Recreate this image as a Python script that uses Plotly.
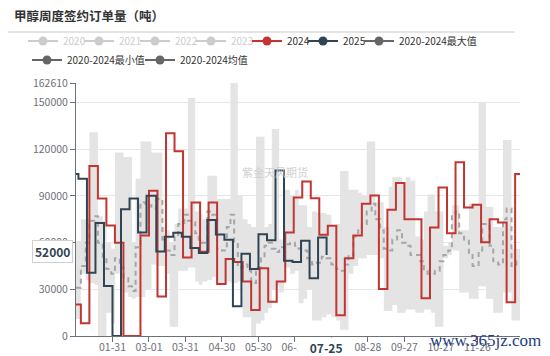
import pandas as pd
import plotly.graph_objects as go

# ---------------- data ----------------
categories = [d.strftime('%m-%d') for d in pd.date_range('2024-01-01', '2024-12-31')]
tick_labels = ['01-31', '03-01', '03-31', '04-30', '05-30', '06-29', '07-29',
               '08-28', '09-27', '10-27', '11-26']

dates_2024 = ['01-01'] + [d.strftime('%m-%d') for d in pd.date_range('2024-01-05', '2024-12-27', freq='7D')] + ['12-31']
values_2024 = [20200, 8200, 109300, 88400, 71000, 59900, 0, 0, 64600, 93400, 25400, 130300, 118700, 50500,
               85800, 54100, 85800, 33500, 49500, 47500, 35000, 16700, 43500, 22000, 35000, 66500, 89000,
               99300, 88600, 65000, 70800, 13300, 50000, 64600, 85000, 90300, 30200, 81100, 98300, 75100,
               75100, 24200, 69700, 95500, 66100, 111600, 82600, 84300, 60300, 75100, 73000, 21700, 104100, 104100]

dates_2025 = ['01-01'] + [d.strftime('%m-%d') for d in pd.date_range('2025-01-03', '2025-07-25', freq='7D')]
values_2025 = [104100, 101100, 40600, 72700, 32200, 0, 81400, 88400, 66600, 90100,
               54300, 63800, 66300, 63800, 56500, 53300, 74600, 65200, 61900, 19200,
               52800, 43000, 65400, 61500, 106300, 48300, 47500, 61200, 37100, 63300, 52000]

band_dates = ['01-01', '01-05', '01-09', '01-12', '01-16', '01-19', '01-23', '01-26', '01-30', '02-02',
              '02-06', '02-09', '02-13', '02-16', '02-19', '02-23', '02-27', '03-03', '03-07', '03-12',
              '03-15', '03-18', '03-22', '03-25', '03-30', '04-02', '04-08', '04-11', '04-14', '04-18',
              '04-22', '04-26', '04-30', '05-04', '05-07', '05-10', '05-13', '05-17', '05-21', '05-24',
              '05-28', '06-01', '06-04', '06-07', '06-10', '06-13', '06-16', '06-20', '06-25', '06-29',
              '07-02', '07-06', '07-09', '07-13', '07-17', '07-21', '07-25', '07-29', '08-02', '08-05',
              '08-09', '08-12', '08-16', '08-20', '08-23', '08-27', '08-31', '09-03', '09-07', '09-10',
              '09-14', '09-17', '09-21', '09-25', '09-28', '10-02', '10-06', '10-10', '10-13', '10-16',
              '10-19', '10-22', '10-26', '10-29', '11-02', '11-05', '11-08', '11-11', '11-15', '11-19',
              '11-22', '11-27', '11-30', '12-03', '12-06', '12-09', '12-13', '12-17', '12-20', '12-24',
              '12-28', '12-31']
max_2020_2024 = [61000, 75000, 76000, 131000, 131000, 77000, 74000, 60000, 56000, 118000,
                 118000, 115000, 115000, 60000, 101000, 125000, 125000, 118000, 118000, 70000,
                 68000, 60000, 72000, 82000, 82000, 153000, 80000, 78000, 75000, 103000,
                 103000, 88000, 88000, 88000, 162610, 162610, 90000, 75000, 72000, 70000,
                 128000, 128000, 70000, 72000, 133000, 133000, 62000, 94000, 90000, 94000,
                 84000, 84000, 70000, 80000, 79000, 79000, 78000, 70000, 72000, 106000,
                 106000, 94000, 94000, 92000, 90000, 125000, 125000, 86000, 86000, 70000,
                 96000, 102000, 102000, 98000, 102000, 100000, 64000, 62000, 80000, 91000,
                 91000, 80000, 80000, 58000, 60000, 84000, 84000, 68000, 68000, 85000,
                 85000, 150000, 150000, 83000, 83000, 70000, 70000, 126000, 126000, 56000,
                 56000, 56000]
min_2020_2024 = [11000, 40000, 36000, 34000, 33000, 0, 0, 15000, 8000, 40000,
                 42000, 28000, 25000, 24000, 25000, 25000, 30000, 46000, 45000, 45000,
                 40000, 6000, 6000, 42000, 42000, 44000, 35000, 33000, 35000, 36000,
                 38000, 34000, 34000, 35000, 34000, 34000, 35000, 12000, 12000, 0,
                 8000, 10000, 15000, 18000, 30000, 32000, 28000, 44000, 40000, 42000,
                 21000, 24000, 30000, 10000, 10000, 12000, 14000, 12000, 10000, 4000,
                 4000, 40000, 45000, 50000, 50000, 52000, 52000, 52000, 50000, 16000,
                 16000, 20000, 15000, 15000, 17000, 17000, 15000, 15000, 17000, 17000,
                 15000, 6000, 6000, 50000, 52000, 55000, 55000, 28000, 28000, 24000,
                 24000, 32000, 32000, 24000, 24000, 15000, 15000, 28000, 28000, 10000,
                 10000, 10000]
avg_2020_2024 = [31000, 45000, 60000, 74000, 77000, 60000, 50000, 43000, 40000, 50000,
                 44000, 38000, 32000, 29000, 57000, 86000, 84000, 82000, 88000, 62000,
                 55000, 52000, 64000, 72000, 78000, 74000, 66000, 60000, 60000, 80000,
                 78000, 56000, 55000, 70000, 78000, 60000, 44000, 46000, 42000, 34000,
                 44000, 50000, 58000, 60000, 56000, 54000, 57000, 59000, 60000, 58000,
                 56000, 55000, 50000, 46000, 47000, 51000, 50000, 46000, 43000, 42000,
                 46000, 52000, 64000, 68000, 72000, 80000, 85000, 75000, 68000, 56000,
                 55000, 62000, 68000, 60000, 58000, 52000, 52000, 48000, 42000, 40000,
                 40000, 42000, 48000, 52000, 55000, 78000, 80000, 66000, 62000, 52000,
                 45000, 55000, 72000, 72000, 58000, 48000, 46000, 75000, 82000, 45000,
                 48000, 48000]

y_ticks = [0, 30000, 60000, 90000, 120000, 150000, 162610]
pointer_date = '07-25'
pointer_value = 52000

# ---------------- styling ----------------
FONT = 'Noto Sans CJK SC'
RED = '#c23531'
NAVY = '#2f4554'
GREY_ICON = '#666666'
OFF = '#cccccc'

fig = go.Figure()

fig.add_trace(go.Scatter(x=band_dates, y=min_2020_2024, mode='lines', line=dict(width=0, shape='hv'),
                         showlegend=False, hoverinfo='skip'))
fig.add_trace(go.Scatter(x=band_dates, y=max_2020_2024, mode='lines', line=dict(width=0, shape='hv'),
                         fill='tonexty', fillcolor='#e4e4e4', showlegend=False, hoverinfo='skip'))
fig.add_trace(go.Scatter(x=band_dates, y=avg_2020_2024, mode='lines',
                         line=dict(width=2, shape='hv', color='#a6a6a6', dash='5px,4px'),
                         showlegend=False, hoverinfo='skip'))
fig.add_trace(go.Scatter(x=dates_2024, y=values_2024, mode='lines',
                         line=dict(width=2, shape='hv', color=RED), showlegend=False))
fig.add_trace(go.Scatter(x=dates_2025, y=values_2025, mode='lines',
                         line=dict(width=2, shape='hv', color=NAVY), showlegend=False))

# legend entries
row1 = [('2020', OFF, True), ('2021', OFF, True), ('2022', OFF, True), ('2023', OFF, True),
        ('2024', RED, False), ('2025', NAVY, False), ('2020-2024最大值', GREY_ICON, False)]
for i, (name, col, off) in enumerate(row1):
    label = f'<span style="color:{OFF}">{name}</span>' if off else name
    fig.add_trace(go.Scatter(x=[None], y=[None], mode='lines+markers', name=label,
                             line=dict(color=col, width=2), marker=dict(color=col, size=9),
                             legend='legend', legendwidth=(11 if i < 6 else 80)))
row2 = [('2020-2024最小值', 68), ('2020-2024均值', 70)]
for name, lw in row2:
    fig.add_trace(go.Scatter(x=[None], y=[None], mode='lines+markers', name=name,
                             line=dict(color=GREY_ICON, width=2), marker=dict(color=GREY_ICON, size=9),
                             legend='legend2', legendwidth=lw))

L, R, T, B = 76, 30, 83, 20
W, H = 550, 356
pw, ph = W - L - R, H - T - B


def px(x):
    return (x - L) / pw


def py(y):
    return (H - B - y) / ph


legend_common = dict(orientation='h', xanchor='left', yanchor='top', itemwidth=30,
                     traceorder='normal',
                     bgcolor='rgba(0,0,0,0)', font=dict(family=FONT, size=10, color='#333'),
                     itemclick=False, itemdoubleclick=False)

NB = '\u00a0' * 3

fig.update_layout(
    width=W, height=H, margin=dict(l=L, r=R, t=T, b=B, autoexpand=False),
    paper_bgcolor='white', plot_bgcolor='white',
    font=dict(family=FONT, size=10, color='#6e7079'),
    title=dict(text='<b>甲醇周度签约订单量（吨）</b>', x=14 / W, xanchor='left',
               y=1 - 17 / H, yanchor='middle', font=dict(family=FONT, size=12.5, color='#333')),
    legend=dict(x=px(23), y=py(26.5), **legend_common),
    legend2=dict(x=px(27), y=py(45.5), **legend_common),
    hovermode=False,
    xaxis=dict(type='category', categoryorder='array', categoryarray=categories,
               range=[0, len(categories) - 1], tickmode='array', tickvals=tick_labels,
               ticktext=tick_labels, ticks='outside', ticklen=5, tickcolor='#6e7079',
               ticklabelstandoff=-4,
               showline=True, linecolor='#6e7079', linewidth=1, showgrid=False,
               tickfont=dict(family=FONT, size=10.5, color='#6e7079'), zeroline=False),
    yaxis=dict(range=[0, y_ticks[-1]], tickmode='array', tickvals=y_ticks,
               ticktext=[str(v) for v in y_ticks], ticks='outside', ticklen=5, tickcolor='#6e7079',
               showline=True, linecolor='#6e7079', linewidth=1, showgrid=True,
               gridcolor='#e6e6e6', gridwidth=1, zeroline=False,
               tickfont=dict(family=FONT, size=10.5, color='#6e7079')),
    shapes=[dict(type='line', xref='paper', yref='paper', x0=px(8), x1=px(515), y0=py(32), y1=py(32),
                 line=dict(color='#c8c8c8', width=1))],
    annotations=[
        dict(text='紫金天风期货', xref='paper', yref='paper', x=px(275), y=py(172),
             xanchor='center', yanchor='middle',
             showarrow=False, font=dict(family=FONT, size=11, color='#d0d0d0')),
        dict(text=f'{NB}\u00a0<b>{pointer_date}</b>{NB}', xref='x', yref='paper', x=pointer_date, y=py(347),
             xanchor='center', yanchor='middle', xshift=-2,
             showarrow=False, bgcolor='white', borderpad=1,
             font=dict(family=FONT, size=12, color=NAVY)),
        dict(text=f'<b>{pointer_value}</b>', xref='paper', yref='y', x=px(52), y=pointer_value,
             xanchor='center', yanchor='middle',
             yshift=4, showarrow=False, bgcolor='white', bordercolor='#d0d0d0', borderwidth=1,
             borderpad=2, font=dict(family=FONT, size=12, color=NAVY)),
        dict(text='www.365jz.com', xref='paper', yref='paper', x=px(485), y=py(340.5),
             xanchor='center', yanchor='middle',
             showarrow=False, font=dict(family='Liberation Serif', size=17, color='#1f3d80')),
    ],
)

fig.write_html('out.html', config={'displayModeBar': False},
               post_script="document.body.style.margin='0';")
